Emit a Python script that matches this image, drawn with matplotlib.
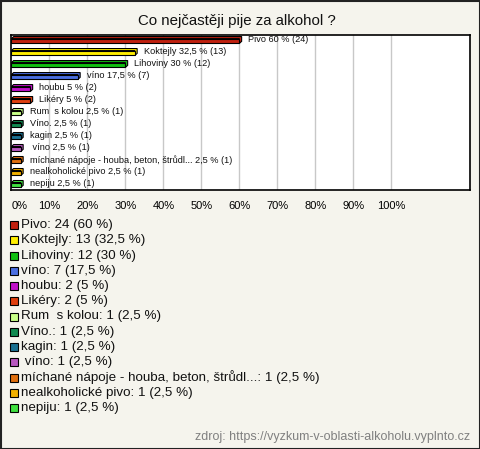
import matplotlib.pyplot as plt
from matplotlib.patches import Rectangle, Polygon

# data
labels = ["Pivo", "Koktejly", "Lihoviny", "víno", "houbu", "Likéry",
          "Rum  s kolou", "Víno.", "kagin", " víno",
          "míchané nápoje - houba, beton, štrůdl...", "nealkoholické pivo", "nepiju"]
counts = [24, 13, 12, 7, 2, 2, 1, 1, 1, 1, 1, 1, 1]
percents = [60, 32.5, 30, 17.5, 5, 5, 2.5, 2.5, 2.5, 2.5, 2.5, 2.5, 2.5]
colors = ["#c0200f", "#ffee00", "#10c010", "#4a6ee0", "#c010c8", "#e04010",
          "#c8ff88", "#108a50", "#1a7090", "#b858c0", "#e07010", "#f0b000", "#40e040"]
xticks = [0, 10, 20, 30, 40, 50, 60, 70, 80, 90, 100]

def fmt(v):
    return ("%g" % v).replace(".", ",")

bg = "#f5f4ed"
plt.rcParams['font.family'] = ['Liberation Sans', 'DejaVu Sans']

fig = plt.figure(figsize=(4.8, 4.49), dpi=100, facecolor=bg)
W, H = 480, 449

fig.text(237 / W, 1 - 21 / H, "Co nejčastěji pije za alkohol ?", ha="center", va="center",
         fontsize=10.8, color="#111111")

ax = fig.add_axes([11 / W, 1 - 190 / H, (470 - 11) / W, (190 - 35) / H])
ax.set_facecolor("white")
ax.set_xlim(-0.1, 120.7)
ax.set_ylim(12.42, -0.5)
for g in xticks[1:]:
    ax.axvline(g, color="#c8c8c8", lw=1, zorder=0)

bh = 0.4
dx, dy = 0.6, 0.17
for i, (p, c) in enumerate(zip(percents, colors)):
    # small 3d look: back face then front face
    back = Polygon([(0, i - bh / 2), (dx, i - bh / 2 - dy), (p + dx, i - bh / 2 - dy),
                    (p + dx, i + bh / 2 - dy), (p, i + bh / 2), (p, i - bh / 2)],
                   closed=True, facecolor=c, edgecolor="black", lw=0.8, zorder=2)
    ax.add_patch(back)
    ax.add_patch(Rectangle((0, i - bh / 2), p, bh, facecolor=c, edgecolor="black",
                           lw=0.8, zorder=3))
    ax.text(p + 2.4, i - 0.1, "%s %s %% (%d)" % (labels[i], fmt(p), counts[i]),
            fontsize=6.6, va="center", ha="left", color="#111111")

ax.set_xticks(xticks)
ax.set_xticklabels(["%d%%" % t for t in xticks], fontsize=8)
ax.get_xticklabels()[0].set_ha("left")
ax.tick_params(axis="x", length=0, pad=8)
ax.set_yticks([])
for s in ax.spines.values():
    s.set_linewidth(1.2)
    s.set_color("black")

# legend
y0, step = 225, 15.25
for i, (lab, c) in enumerate(zip(labels, colors)):
    y = y0 + i * step
    fig.patches.append(Rectangle((10 / W, 1 - (y + 4) / H), 8 / W, 8 / H, facecolor=c,
                                 edgecolor="black", lw=0.8, transform=fig.transFigure))
    fig.text(21 / W, 1 - y / H, "%s: %d (%s %%)" % (lab, counts[i], fmt(percents[i])),
             fontsize=9.6, va="center", ha="left", color="#111111")

fig.text(470 / W, 1 - 437 / H, "zdroj: https://vyzkum-v-oblasti-alkoholu.vyplnto.cz",
         fontsize=9, color="#808080", ha="right", va="center")

fig.patches.append(Rectangle((0.5 / W, 0.5 / H), 1 - 1 / W, 1 - 1 / H, fill=False,
                             edgecolor="#222222", lw=1.5, transform=fig.transFigure))

fig.savefig("out.png", dpi=100, facecolor=bg)
